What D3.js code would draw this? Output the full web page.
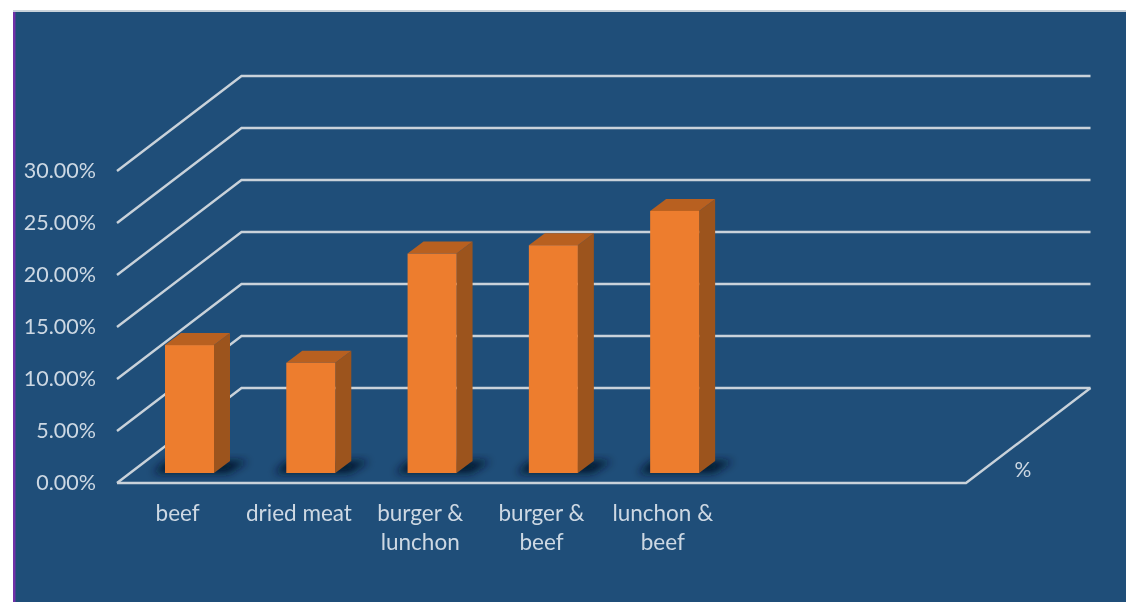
<!DOCTYPE html>
<html>
<head>
<meta charset="utf-8">
<script src="https://cdn.jsdelivr.net/npm/d3@7"></script>
<style>
    html, body { margin: 0; padding: 0; background: #fff; overflow: hidden; }
    svg { display: block; filter: blur(0.7px); }
    text { font-family: Lato, "Open Sans", sans-serif; fill: #cdd8e3; font-size: 22.5px; }
</style>
</head>
<body>
<svg id="chart" width="1126" height="602"></svg>
<script>
const categories = ['beef', 'dried meat', 'burger & lunchon', 'burger & beef', 'lunchon & beef'];
const categoryLines = [['beef'], ['dried meat'], ['burger &', 'lunchon'], ['burger &', 'beef'], ['lunchon &', 'beef']];
const values = [12.3, 10.6, 21.1, 21.9, 25.2];
const ticks = [0, 5, 10, 15, 20, 25, 30];
const slots = d3.range(7); // the category axis leaves two empty slots on the right

const svg = d3.select('#chart');

// depth of the floor and of each bar, in px
const depth = { x: 124.5, y: -95 };
const barDepth = { x: 16, y: -12 };

const x = d3.scaleBand().domain(slots).range([117, 966]);
const yFront = d3.scaleLinear().domain([0, 30]).range([483, 171]);
const barHeight = d3.scaleLinear().domain([0, 30]).range([0, 312]);
const barBase = 473;
const barLeft = 48;
const barWidth = 49;

const defs = svg.append('defs');
defs.append('filter').attr('id', 'shadow').attr('x', '-30%').attr('y', '-60%').attr('width', '160%').attr('height', '220%')
    .append('feGaussianBlur').attr('stdDeviation', 4);

// page frame
svg.append('rect').attr('x', 15).attr('y', 12).attr('width', 1111).attr('height', 590).attr('fill', '#1f4e79');
svg.append('rect').attr('x', 13).attr('y', 12).attr('width', 2.5).attr('height', 590).attr('fill', '#7030a8');
svg.append('rect').attr('x', 13).attr('y', 10).attr('width', 1113).attr('height', 2).attr('fill', '#c9d2da');

// grid: side wall + back wall
const grid = svg.append('g').attr('fill', 'none').attr('stroke', '#c9d2da').attr('stroke-width', 2.4);
grid.selectAll('path.wall')
    .data(ticks)
    .enter()
    .append('path')
    .attr('class', 'wall')
    .attr('d', d => `M${x.range()[0]},${yFront(d)}L${x.range()[0] + depth.x},${yFront(d) + depth.y}H${x.range()[1] + depth.x}`);

// floor front edge and right edge
grid.append('path')
    .attr('d', `M${x.range()[0]},${yFront(0)}H${x.range()[1]}L${x.range()[1] + depth.x},${yFront(0) + depth.y}`);

// bar shadows
svg.append('g')
    .selectAll('path')
    .data(values)
    .enter()
    .append('path')
    .attr('filter', 'url(#shadow)')
    .attr('fill', '#04142a')
    .attr('d', (d, i) => {
        const l = x(i) + barLeft;
        return `M${l - 12},${barBase}L${l + 2},${barBase - 12}H${l + barWidth + 34}L${l + barWidth + 14},${barBase}Z`;
    });

// bars
const bar = svg.append('g').selectAll('g').data(values).enter().append('g');

bar.append('path')
    .attr('fill', '#9c541d')
    .attr('d', (d, i) => {
        const r = x(i) + barLeft + barWidth;
        const top = barBase - barHeight(d);
        return `M${r},${barBase}V${top}l${barDepth.x},${barDepth.y}V${barBase + barDepth.y}Z`;
    });

bar.append('path')
    .attr('fill', '#b86020')
    .attr('d', (d, i) => {
        const l = x(i) + barLeft;
        const top = barBase - barHeight(d);
        return `M${l},${top}l${barDepth.x},${barDepth.y}h${barWidth}l${-barDepth.x},${-barDepth.y}Z`;
    });

bar.append('rect')
    .attr('fill', '#ed7d2e')
    .attr('x', (d, i) => x(i) + barLeft)
    .attr('y', d => barBase - barHeight(d))
    .attr('width', barWidth)
    .attr('height', d => barHeight(d));

// value axis
const yAxis = svg.append('g')
    .attr('transform', 'translate(96,0)')
    .call(d3.axisLeft(yFront).tickValues(ticks).tickSize(0).tickPadding(0).tickFormat(d => d3.format('.2f')(d) + '%'));
yAxis.select('.domain').remove();
yAxis.selectAll('text').style('font-size', '21.5px').style('font-family', 'Lato, sans-serif');

// category labels, wrapped by hand as in the source
const xLabels = svg.append('g')
    .selectAll('text')
    .data(categories)
    .enter()
    .append('text')
    .attr('text-anchor', 'middle')
    .attr('y', 521);

xLabels.selectAll('tspan')
    .data((d, i) => categoryLines[i].map(line => ({ line, i })))
    .enter()
    .append('tspan')
    .attr('x', d => x(d.i) + x.bandwidth() / 2)
    .attr('dy', (d, j) => (j ? 29 : 0))
    .text(d => d.line);

// depth axis label
svg.append('text').attr('x', 1023).attr('y', 477).attr('text-anchor', 'middle').style('font-size', '21px').text('%');
</script>
</body>
</html>
